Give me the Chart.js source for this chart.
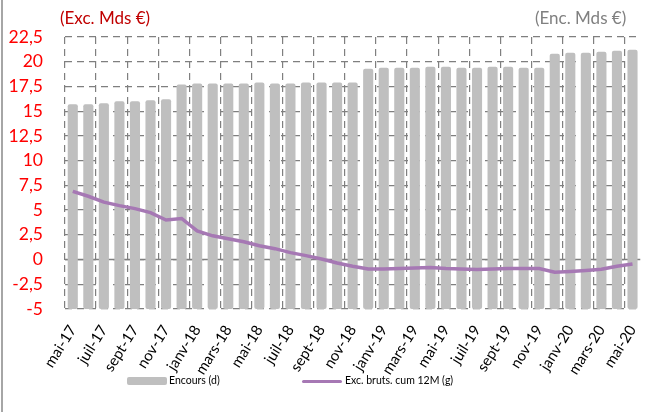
<!DOCTYPE html>
<html>
<head>
<meta charset="utf-8">
<script src="https://cdn.jsdelivr.net/npm/chart.js@4"></script>
<style>
  body { margin: 0; background: #fff; }
  #wrap { position: relative; width: 661px; height: 412px; font-family: Lato, "Open Sans", sans-serif; }
  #edge { position: absolute; left: 1px; top: 0; width: 2px; height: 412px; background: #a6a6a6; }
  canvas { position: absolute; left: 0; top: 0; }
  .unit { position: absolute; top: 7px; font-size: 17px; }
  .leg { position: absolute; font-size: 10.5px; color: #000; }
</style>
</head>
<body>
<div id="wrap">
  <canvas id="myChart" width="661" height="412"></canvas>
  <div id="edge"></div>
  <div class="unit" style="left:60px;color:#c00000">(Exc. Mds €)</div>
  <div class="unit" style="left:535px;color:#808080">(Enc. Mds €)</div>
  <div style="position:absolute;left:127px;top:377px;width:40px;height:8px;background:#bfbfbf;border-radius:2px"></div>
  <div class="leg" style="left:169px;top:374px">Encours (d)</div>
  <div style="position:absolute;left:302px;top:380px;width:40px;height:3px;background:#a678b4;border-radius:2px"></div>
  <div class="leg" style="left:345px;top:374px">Exc. bruts. cum 12M (g)</div>
</div>
<script>
const mois = ['janv', 'févr', 'mars', 'avr', 'mai', 'juin', 'juil', 'août', 'sept', 'oct', 'nov', 'déc'];

// mai-17 -> mai-20
const labels = [];
for (let k = 4; k <= 4 + 36; k++) {
    labels.push(mois[k % 12] + '-' + (17 + Math.floor(k / 12)));
}

const encours = [15.7, 15.7, 15.8, 16.0, 16.0, 16.1, 16.2, 17.7, 17.8, 17.8, 17.8, 17.8, 17.9,
    17.8, 17.8, 17.9, 17.9, 17.9, 17.9, 19.3, 19.4, 19.4, 19.4, 19.5, 19.5, 19.4, 19.4,
    19.5, 19.5, 19.4, 19.4, 20.8, 20.9, 20.9, 21.0, 21.1, 21.2];

const excBruts = [6.9, 6.4, 5.8, 5.45, 5.15, 4.75, 4.0, 4.15, 2.9, 2.4, 2.1, 1.8, 1.4,
    1.1, 0.7, 0.4, 0.05, -0.35, -0.67, -0.95, -0.95, -0.9, -0.85, -0.8, -0.9, -0.95, -1.0,
    -0.95, -0.9, -0.9, -0.9, -1.28, -1.2, -1.1, -0.98, -0.67, -0.44];

const yMin = -5, yMax = 22.5, yStep = 2.5;

const gridCol = '#7f7f7f';

// ligne du zéro en trait plein
const zeroLine = {
    id: 'zeroLine',
    beforeDatasetsDraw(chart) {
        const { ctx, chartArea, scales } = chart;
        const y = scales.y.getPixelForValue(0);
        ctx.save();
        ctx.strokeStyle = '#7f7f7f';
        ctx.lineWidth = 1.5;
        ctx.beginPath();
        ctx.moveTo(chartArea.left, y);
        ctx.lineTo(chartArea.right, y);
        ctx.stroke();
        ctx.restore();
    }
};

const ctx = document.getElementById('myChart');

new Chart(ctx, {
    data: {
        labels: labels,
        datasets: [{
            type: 'line',
            label: 'Exc. bruts. cum 12M (g)',
            data: excBruts,
            yAxisID: 'y',
            borderColor: '#a678b4',
            borderWidth: 3.5,
            pointRadius: 0,
            tension: 0,
            order: 0
        }, {
            type: 'bar',
            label: 'Encours (d)',
            data: encours,
            yAxisID: 'y1',
            base: yMin,
            backgroundColor: '#bfbfbf',
            borderRadius: 2,
            borderSkipped: false,
            barPercentage: 0.65,
            categoryPercentage: 1,
            order: 1
        }]
    },
    options: {
        responsive: false,
        animation: false,
        layout: { padding: { left: 0, right: 17, top: 37, bottom: 0 } },
        plugins: { legend: { display: false }, tooltip: { enabled: false } },
        scales: {
            x: {
                offset: true,
                grid: {
                    offset: true,
                    drawTicks: false,
                    lineWidth: 1.2,
                    color: c => (c.index % 2 === 0 ? gridCol : 'rgba(0,0,0,0)')
                },
                border: { display: false, dash: [7, 5] },
                ticks: {
                    autoSkip: false,
                    minRotation: 58,
                    maxRotation: 58,
                    padding: 13,
                    color: '#000',
                    font: { family: 'Lato', size: 15 },
                    callback: function (val, i) { return i % 2 === 0 ? this.getLabelForValue(val) : ''; }
                },
                afterFit: s => { s.height = 103; }
            },
            y: {
                min: yMin,
                max: yMax,
                grid: { drawTicks: false, color: gridCol, lineWidth: 1.2 },
                border: { display: false, dash: [7, 5] },
                ticks: {
                    stepSize: yStep,
                    padding: 22,
                    color: '#ff0000',
                    font: { family: 'Lato', size: 17.5 },
                    callback: v => String(v).replace('.', ',')
                },
                afterFit: s => { s.width = 65; }
            },
            y1: {
                display: false,
                position: 'right',
                min: yMin,
                max: yMax
            }
        }
    },
    plugins: [zeroLine]
});
</script>
</body>
</html>
